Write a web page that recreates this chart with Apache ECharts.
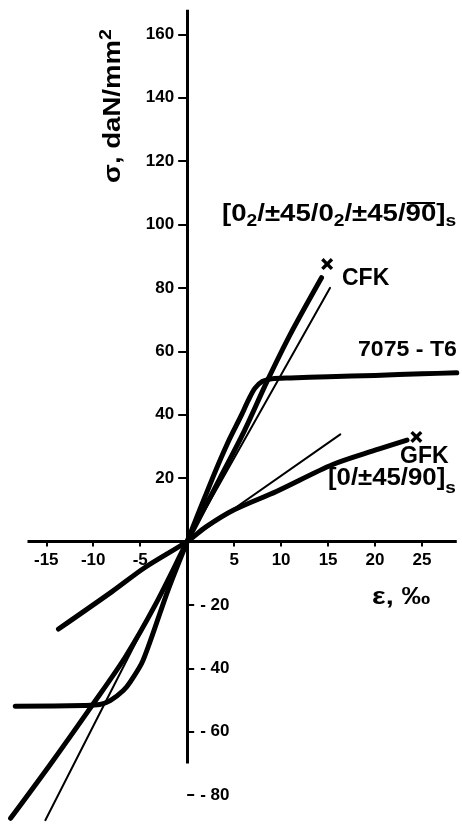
<!DOCTYPE html>
<html>
<head>
<meta charset="utf-8">
<script src="https://cdn.jsdelivr.net/npm/echarts@6/dist/echarts.min.js"></script>
<style>
  html, body { margin: 0; padding: 0; background: #fff; }
  #chart { width: 462px; height: 825px; }
</style>
</head>
<body>
<div id="chart"></div>
<script>
  // strain ε in ‰, stress σ in daN/mm²
  const alu7075X = [-18.3, -11, -9.3, -8.2, -6.8, -6, -4.7, -2, 0, 2.7, 4.3, 5.8, 6.5, 7.2, 8, 9, 11, 15, 20, 25, 28.7];
  const alu7075Y = [-52, -51.7, -51.4, -50.2, -47, -44, -37.5, -15, 0, 20, 31, 40, 44.5, 48.3, 50.5, 51.3, 51.6, 52, 52.4, 52.9, 53.2];

  const cfkTestX = [-18.8, -14.5, -10.1, -6.6, -3.4, 0, 3.5, 6.1, 8.5, 11, 14.3];
  const cfkTestY = [-87.3, -70, -51.6, -36.5, -20, 0, 20, 35, 50.5, 65.5, 83.2];

  const cfkTheoryX = [-15.1, 0, 15.2];
  const cfkTheoryY = [-87.9, 0, 80];

  const gfkTestX = [-13.7, -8, -4.5, 0, 2, 5, 9.5, 15.5, 20, 23.4];
  const gfkTestY = [-27.6, -15.8, -8.2, 0, 4.6, 10, 15.8, 24.3, 28.8, 32];

  const gfkTheoryX = [0, 16.3];
  const gfkTheoryY = [0, 33.8];

  // fracture points (×)
  const breakX = [14.9, 24.4];
  const breakY = [87.5, 33];

  const xTicks = [-15, -10, -5, 5, 10, 15, 20, 25];
  const yTicksUp = [20, 40, 60, 80, 100, 120, 140, 160];
  const yTicksDown = [-20, -40, -60, -80];

  const pairs = (xs, ys) => xs.map((x, i) => [x, ys[i]]);

  const FONT_FAMILY = '"Liberation Sans", Arial, sans-serif';
  const tickText = { color: '#000', fontFamily: FONT_FAMILY, fontWeight: 'bold', fontSize: 17 };
  const labelFont = (size) => `bold ${size}px ${FONT_FAMILY}`;

  const ctx = document.createElement('canvas').getContext('2d');
  const textWidth = (t, size) => { ctx.font = labelFont(size); return ctx.measureText(t).width; };

  var chartDom = document.getElementById('chart');
  var myChart = echarts.init(chartDom);

  const thick = { color: '#000', width: 5, cap: 'round', join: 'round' };
  const thin = { color: '#000', width: 2, cap: 'round' };

  // axis ranges and grid box
  const X_MIN = -19.5, X_MAX = 29, Y_MIN = -88, Y_MAX = 168;
  const GRID = { left: 4, right: 2.4, top: 8.9, bottom: 4.5 };
  // the two axes cross at (0, 0): shift them in from the grid edges
  const pxPerX = (chartDom.clientWidth - GRID.left - GRID.right) / (X_MAX - X_MIN);
  const pxPerY = (chartDom.clientHeight - GRID.top - GRID.bottom) / (Y_MAX - Y_MIN);
  const yAxisShift = -(0 - X_MIN) * pxPerX;
  const xAxisShift = -(0 - Y_MIN) * pxPerY;

  // where the axis strokes start and end (data units)
  const axisX = [-17, 28.7];
  const axisY = [-70, 167.7];

  // top lay-up label, the 90 carries an overline
  const topPre = textWidth('[0', 23) + textWidth('2', 16) + textWidth('/±45/0', 23) + textWidth('2', 16) + textWidth('/±45/', 23);
  const top90 = textWidth('90', 23);

  const option = {
    animation: false,
    grid: Object.assign({ outerBoundsMode: 'none' }, GRID),
    xAxis: {
      type: 'value', min: X_MIN, max: X_MAX, position: 'bottom', offset: xAxisShift,
      axisLine: { show: false, onZero: false },
      splitLine: { show: false },
      axisTick: { customValues: xTicks, length: 5, lineStyle: { color: '#000', width: 2 } },
      axisLabel: Object.assign({ customValues: xTicks, margin: 10 }, tickText),
    },
    yAxis: [
      {
        type: 'value', min: Y_MIN, max: Y_MAX, position: 'left', offset: yAxisShift,
        axisLine: { show: false, onZero: false },
        splitLine: { show: false },
        axisTick: { customValues: yTicksUp, length: 9, lineStyle: { color: '#000', width: 2 } },
        axisLabel: Object.assign({ customValues: yTicksUp, margin: 13 }, tickText),
      },
      {
        type: 'value', min: Y_MIN, max: Y_MAX, position: 'left', offset: yAxisShift,
        axisLine: { show: false, onZero: false },
        splitLine: { show: false },
        axisTick: { inside: true, customValues: yTicksDown, length: 7, lineStyle: { color: '#000', width: 2 } },
        axisLabel: Object.assign({
          inside: true, customValues: yTicksDown, margin: 13,
          formatter: (v) => '- ' + Math.abs(v),
        }, tickText),
      },
    ],
    series: [
      {
        name: '7075-T6', type: 'line', data: pairs(alu7075X, alu7075Y),
        symbol: 'none', smooth: 0.3, lineStyle: thick,
        markLine: {
          silent: true, symbol: ['none', 'none'], label: { show: false },
          lineStyle: { color: '#000', width: 3, type: 'solid' },
          data: [
            [{ coord: [axisX[0], 0] }, { coord: [axisX[1], 0] }],
            [{ coord: [0, axisY[0]] }, { coord: [0, axisY[1]] }],
          ],
        },
      },
      { name: 'CFK', type: 'line', data: pairs(cfkTestX, cfkTestY), symbol: 'none', smooth: 0.3, lineStyle: thick },
      { name: 'CFK theorie', type: 'line', data: pairs(cfkTheoryX, cfkTheoryY), symbol: 'none', lineStyle: thin },
      { name: 'GFK', type: 'line', data: pairs(gfkTestX, gfkTestY), symbol: 'none', smooth: 0.3, lineStyle: thick },
      { name: 'GFK theorie', type: 'line', data: pairs(gfkTheoryX, gfkTheoryY), symbol: 'none', lineStyle: thin },
      {
        name: 'Bruch', type: 'scatter', data: pairs(breakX, breakY), symbolSize: 12,
        symbol: 'path://M0,2L2,0L5,3L8,0L10,2L7,5L10,8L8,10L5,7L2,10L0,8L3,5Z',
        itemStyle: { color: '#000', opacity: 1 },
      },
    ],
    graphic: [
      {
        type: 'text', x: 113, y: 106, rotation: Math.PI / 2, scaleX: 1.15,
        style: {
          text: 'σ, daN/mm{sup|2}', font: labelFont(24), fill: '#000', lineHeight: 30,
          textAlign: 'center', textVerticalAlign: 'middle',
          rich: { sup: { font: labelFont(17), lineHeight: 14, verticalAlign: 'top' } },
        },
      },
      {
        type: 'text', x: 372, y: 598, scaleX: 1.25,
        style: { text: 'ε, ‰', font: labelFont(23), fill: '#000', textVerticalAlign: 'middle' },
      },
      {
        type: 'text', x: 342, y: 279,
        style: { text: 'CFK', font: labelFont(23), fill: '#000', textVerticalAlign: 'middle' },
      },
      {
        type: 'text', x: 358, y: 350, scaleX: 1.05,
        style: { text: '7075 - T6', font: labelFont(22), fill: '#000', textVerticalAlign: 'middle' },
      },
      {
        type: 'text', x: 400, y: 457,
        style: { text: 'GFK', font: labelFont(23), fill: '#000', textVerticalAlign: 'middle' },
      },
      {
        type: 'group', x: 328, y: 479, scaleX: 1.12,
        children: [{
          type: 'text', x: 0, y: 0,
          style: {
            text: '[0/±45/90]{s|s}', font: labelFont(23), fill: '#000', lineHeight: 36,
            textVerticalAlign: 'middle',
            rich: { s: { font: labelFont(17), lineHeight: 6, verticalAlign: 'bottom' } },
          },
        }],
      },
      {
        type: 'group', x: 222, y: 215, scaleX: 1.2,
        children: [
          {
            type: 'text', x: 0, y: 0,
            style: {
              text: '[0{d|2}/±45/0{d|2}/±45/90]{s|s}', font: labelFont(23), fill: '#000', lineHeight: 30,
              textVerticalAlign: 'middle',
              rich: {
                d: { font: labelFont(16), lineHeight: 16, verticalAlign: 'bottom' },
                s: { font: labelFont(16), lineHeight: 6, verticalAlign: 'bottom' },
              },
            },
          },
          {
            type: 'line', shape: { x1: topPre + 1, y1: -12, x2: topPre + top90 - 1, y2: -12 },
            style: { stroke: '#000', lineWidth: 2 },
          },
        ],
      },
    ],
  };

  option && myChart.setOption(option);
</script>
</body>
</html>
